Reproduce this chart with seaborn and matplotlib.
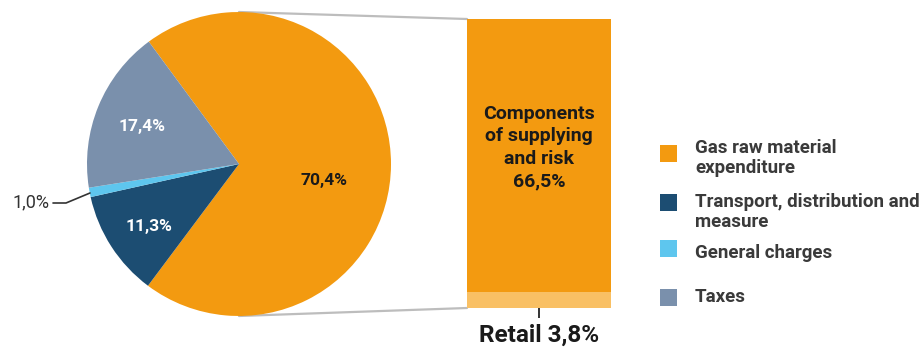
import matplotlib
matplotlib.use("Agg")
import matplotlib.pyplot as plt
from matplotlib.patches import ConnectionPatch, Rectangle
import seaborn as sns

# Breakdown of the gas bill
categories = ["Gas raw material\nexpenditure", "Transport, distribution and\nmeasure",
              "General charges", "Taxes"]
shares = [70.4, 11.3, 1.0, 17.4]
share_labels = ["70,4%", "11,3%", "1,0%", "17,4%"]
colors = ["#F39A10", "#1C4D72", "#5EC6EE", "#7A90AC"]

# Split of the raw material expenditure
bar_category = ["Retail 3,8%"]
supply_risk = 66.5
retail = 3.8
supply_label = "Components\nof supplying\nand risk\n66,5%"
bar_colors = ["#F39A10", "#F9C064"]

sns.set_theme(style="white")
plt.rcParams["font.family"] = ["Roboto", "DejaVu Sans"]

W, H = 924, 351
fig = plt.figure(figsize=(W / 100, H / 100), dpi=100)
fig.patch.set_facecolor("white")


def px_axes(x0, y0, w, h):
    """Axes placed by pixel box (top-left origin)."""
    return fig.add_axes([x0 / W, (H - y0 - h) / H, w / W, h / H])


# ---- pie ----
cx, cy, R, half = 239, 164, 152, 160
ax_pie = px_axes(cx - half, cy - half, 2 * half, 2 * half)
wedges, _ = ax_pie.pie(shares, colors=colors, startangle=126.4, counterclock=False,
                       radius=R, center=(0, 0), wedgeprops=dict(linewidth=0))
ax_pie.set_xlim(-half, half)
ax_pie.set_ylim(-half, half)
ax_pie.set_aspect("equal")
ax_pie.axis("off")

lab_kw = dict(ha="center", va="center", fontsize=12.5, fontweight="bold")
ax_pie.text(85, -16, share_labels[0], color="#1a1a1a", **lab_kw)
ax_pie.text(-90, -63, share_labels[1], color="white", **lab_kw)
ax_pie.text(-97, 37, share_labels[3], color="white", **lab_kw)
ax_pie.text(-189, -38, share_labels[2], color="#333333", ha="right", va="center",
            fontsize=13, clip_on=False)
ax_pie.plot([-186, -173, -149], [-39, -39, -29], color="#333333", lw=1.2,
            clip_on=False)

# ---- stacked bar ----
total = supply_risk + retail
bx0, bx1, btop, bbot = 467, 611, 19, 308
ax_bar = px_axes(bx0, btop, bx1 - bx0, bbot - btop)
sns.barplot(x=bar_category, y=[total], color=bar_colors[0], width=1.0,
            saturation=1, linewidth=0, ax=ax_bar)
sns.barplot(x=bar_category, y=[retail], color=bar_colors[1], width=1.0,
            saturation=1, linewidth=0, ax=ax_bar)
ax_bar.set_xlim(-0.5, 0.5)
ax_bar.set_ylim(0, total)
ax_bar.set_yticks([])
ax_bar.set_ylabel("")
ax_bar.set_xlabel("")
for s in ax_bar.spines.values():
    s.set_visible(False)
ax_bar.tick_params(axis="x", bottom=True, length=7.5, width=1.4, color="#333333",
                   direction="out", pad=4, labelsize=17.5, labelcolor="#1a1a1a")
for t in ax_bar.get_xticklabels():
    t.set_fontweight("bold")
ax_bar.text(0, retail + supply_risk / 2 + 2, supply_label, ha="center", va="center",
            fontsize=14, fontweight="bold", color="#1a1a1a", linespacing=1.33)

# ---- connectors from the pie to the bar ----
for py, by in [(R, total), (-R, 0)]:
    con = ConnectionPatch(xyA=(0, py), coordsA=ax_pie.transData,
                          xyB=(-0.5, by), coordsB=ax_bar.transData,
                          color="#BDBDBD", lw=1.6, zorder=0)
    fig.add_artist(con)

# ---- legend ----
ax_leg = px_axes(0, 0, W, H)
ax_leg.set_xlim(0, W)
ax_leg.set_ylim(H, 0)
ax_leg.axis("off")
sq_tops = [145, 194, 240, 289]
text_tops = [139, 193, 244, 288]
for top, ttop, lab, col in zip(sq_tops, text_tops, categories, colors):
    ax_leg.add_patch(Rectangle((660, top), 17, 17, facecolor=col, edgecolor="none"))
    ax_leg.text(695, ttop, lab, ha="left", va="top", fontsize=13.5,
                fontweight="bold", color="#3a3a3a", linespacing=1.17)

fig.savefig("out.png", dpi=100, facecolor="white")
